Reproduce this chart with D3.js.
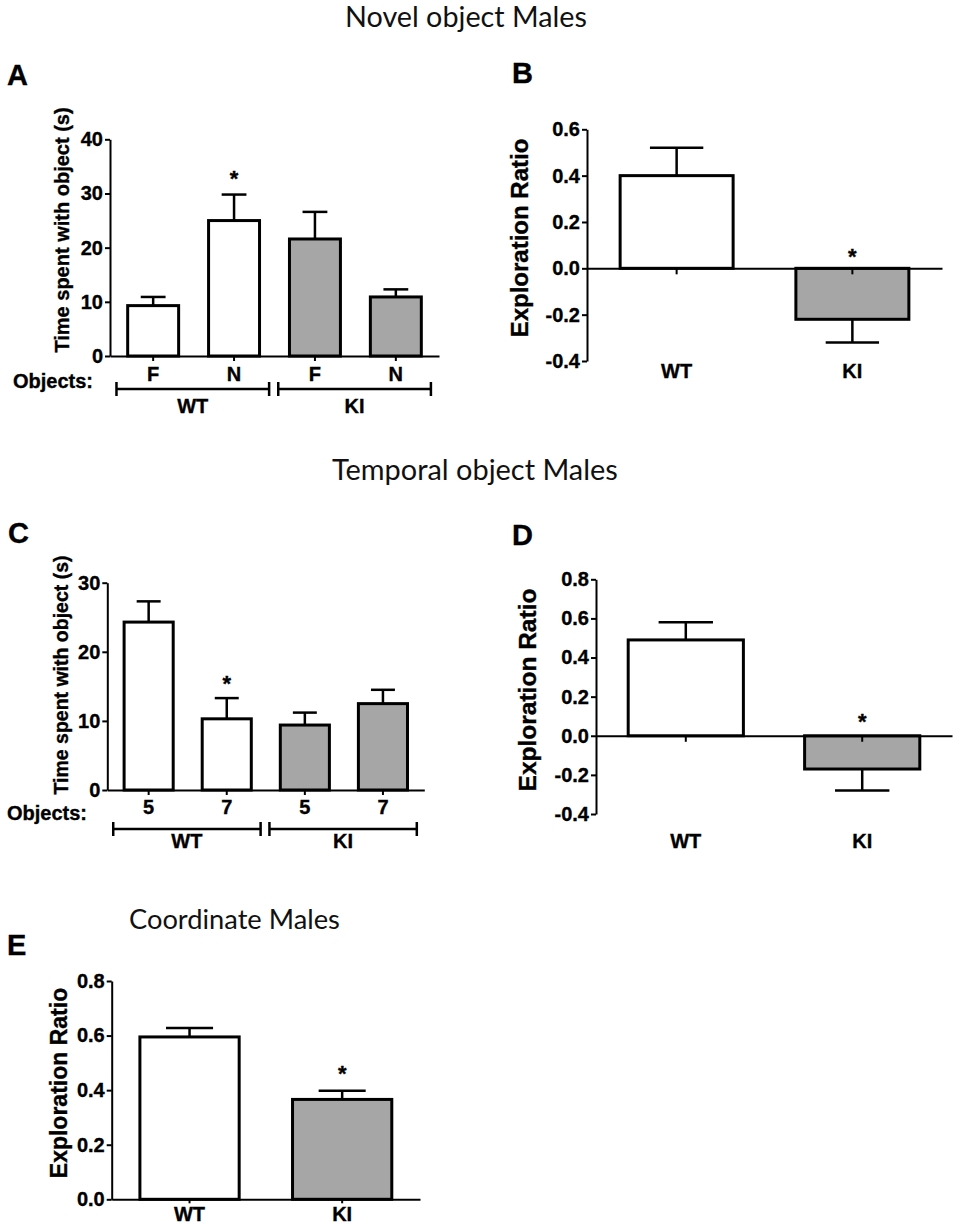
<!DOCTYPE html>
<html>
<head>
<meta charset="utf-8">
<script src="https://cdn.jsdelivr.net/npm/d3@7/dist/d3.min.js"></script>
<style>
  html, body { margin: 0; padding: 0; background: #fff; }
  svg { display: block; }
</style>
</head>
<body>
<svg id="chart" width="957" height="1231"></svg>
<script>
// ---------------- DATA ----------------
const titles = ["Novel object Males", "Temporal object Males", "Coordinate Males"];
const panelLetters = ["A", "B", "C", "D", "E"];

// Panel A: novel object, time spent
const aCategories = ["F", "N", "F", "N"];
const aGroups = ["WT", "WT", "KI", "KI"];
const aMeans = [9.3, 25.0, 21.6, 10.9];
const aSem = [1.6, 4.8, 5.0, 1.4];
const aSig = [false, true, false, false];
const aTicks = [0, 10, 20, 30, 40];

// Panel B: novel object, exploration ratio
const bCategories = ["WT", "KI"];
const bMeans = [0.40, -0.22];
const bSem = [0.12, 0.10];
const bSig = [false, true];
const bTicks = [-0.4, -0.2, 0.0, 0.2, 0.4, 0.6];

// Panel C: temporal object, time spent
const cCategories = ["5", "7", "5", "7"];
const cGroups = ["WT", "WT", "KI", "KI"];
const cMeans = [24.3, 10.3, 9.4, 12.5];
const cSem = [3.0, 3.0, 1.8, 2.0];
const cSig = [false, true, false, false];
const cTicks = [0, 10, 20, 30];

// Panel D: temporal object, exploration ratio
const dCategories = ["WT", "KI"];
const dMeans = [0.49, -0.17];
const dSem = [0.09, 0.11];
const dSig = [false, true];
const dTicks = [-0.4, -0.2, 0.0, 0.2, 0.4, 0.6, 0.8];

// Panel E: coordinate, exploration ratio
const eCategories = ["WT", "KI"];
const eMeans = [0.595, 0.366];
const eSem = [0.033, 0.032];
const eSig = [false, true];
const eTicks = [0.0, 0.2, 0.4, 0.6, 0.8];

const yLabelTime = "Time spent with object (s)";
const yLabelRatio = "Exploration Ratio";
const objectsLabel = "Objects:";
const groupNames = ["WT", "KI"];
// --------------------------------------

const groupFill = { WT: "#ffffff", KI: "#a6a6a6" };
const svg = d3.select("#chart");
const BOLD = '"Liberation Sans", Arial, sans-serif';
const HEAVY = 0.35; // slight outline to mimic the heavier print of the original

function boldText(sel, size) {
  return sel.attr("font-family", BOLD).attr("font-weight", "bold")
    .attr("font-size", size).attr("fill", "#000")
    .attr("stroke", "#000").attr("stroke-width", HEAVY);
}

function fitTitle(txt, x0, baseline, targetW) {
  const t = svg.append("text")
    .attr("x", x0).attr("y", baseline)
    .attr("font-family", 'Lato, "Open Sans", sans-serif')
    .attr("font-size", 24).attr("fill", "#111")
    .text(txt);
  const w = t.node().getComputedTextLength();
  t.attr("font-size", 24 * targetW / w);
}

function letter(txt, x, y) {
  boldText(svg.append("text").attr("x", x).attr("y", y), 29).text(txt);
}

function styleAxis(g, fs) {
  g.attr("font-family", BOLD).attr("font-weight", "bold").attr("font-size", fs);
  g.selectAll("path.domain").attr("stroke", "#000").attr("stroke-width", 2);
  g.selectAll(".tick line").attr("stroke", "#000").attr("stroke-width", 2);
  g.selectAll(".tick text").attr("fill", "#000").attr("stroke", "#000").attr("stroke-width", HEAVY);
}

function drawPanel(cfg) {
  const n = cfg.means.length;
  const idx = d3.range(n);
  const x = d3.scaleBand().domain(idx).range(cfg.xRange)
    .paddingInner(cfg.pi).paddingOuter(cfg.po);
  const y = d3.scaleLinear().domain(cfg.yDomain).range(cfg.yRange);
  const bw = x.bandwidth();
  const g = svg.append("g");
  const groups = cfg.groups || cfg.categories;

  // error bars
  idx.forEach(i => {
    const m = cfg.means[i];
    const e = m >= 0 ? m + cfg.sem[i] : m - cfg.sem[i];
    const cx = x(i) + bw / 2;
    g.append("line").attr("x1", cx).attr("x2", cx)
      .attr("y1", y(m)).attr("y2", y(e))
      .attr("stroke", "#000").attr("stroke-width", 2.5);
    g.append("line").attr("x1", cx - bw * 0.23).attr("x2", cx + bw * 0.23)
      .attr("y1", y(e)).attr("y2", y(e))
      .attr("stroke", "#000").attr("stroke-width", 2.5);
  });

  // bars
  g.selectAll("rect.bar").data(idx).join("rect")
    .attr("class", "bar")
    .attr("x", i => x(i) + 1.5)
    .attr("width", bw - 3)
    .attr("y", i => Math.min(y(0), y(cfg.means[i])))
    .attr("height", i => Math.abs(y(cfg.means[i]) - y(0)))
    .attr("fill", i => groupFill[groups[i]])
    .attr("stroke", "#000").attr("stroke-width", 3);

  // stars
  idx.forEach(i => {
    if (!cfg.sig[i]) return;
    const m = cfg.means[i];
    const cy = m >= 0 ? y(m + cfg.sem[i]) - cfg.starGap : y(0) - cfg.starGapNeg;
    boldText(g.append("text").attr("x", x(i) + bw / 2).attr("y", cy + 12)
      .attr("text-anchor", "middle"), 22).text("*");
  });

  // y axis
  const yAxis = d3.axisLeft(y).tickValues(cfg.ticks)
    .tickSize(5).tickSizeOuter(0).tickPadding(2)
    .tickFormat(cfg.tickFmt);
  const ga = svg.append("g").attr("transform", `translate(${cfg.xRange[0]},0)`).call(yAxis);
  styleAxis(ga, 20);

  // x axis at zero
  const xAxis = d3.axisBottom(x).tickSize(cfg.xTickSize).tickSizeOuter(0)
    .tickPadding(cfg.xTickPad)
    .tickFormat(i => cfg.labelsOnAxis ? cfg.categories[i] : "");
  const gx = svg.append("g").attr("transform", `translate(0,${y(0)})`).call(xAxis);
  styleAxis(gx, 20);

  // category labels below plot (for ratio panels with negative range)
  if (cfg.bottomLabelY) {
    idx.forEach(i => {
      boldText(svg.append("text").attr("x", x(i) + bw / 2).attr("y", cfg.bottomLabelY)
        .attr("text-anchor", "middle"), 20).text(cfg.categories[i]);
    });
  }

  // y label
  boldText(svg.append("text")
    .attr("transform", `translate(${cfg.yLabelX},${cfg.yLabelY}) rotate(-90)`)
    .attr("text-anchor", "middle").attr("dy", "0.35em"), cfg.yLabelSize)
    .text(cfg.yLabel);

  // group brackets
  if (cfg.groups) {
    boldText(svg.append("text").attr("x", cfg.objX).attr("y", cfg.objY), 20).text(objectsLabel);
    const step = x.step();
    groupNames.forEach(gn => {
      const members = idx.filter(i => cfg.groups[i] === gn);
      const l = x(members[0]) - 0.12 * step;
      const r = x(members[members.length - 1]) + bw + 0.1 * step;
      const bg = svg.append("g").attr("stroke", "#000").attr("stroke-width", 2.5);
      bg.append("line").attr("x1", l).attr("x2", r).attr("y1", cfg.brY).attr("y2", cfg.brY);
      bg.append("line").attr("x1", l).attr("x2", l).attr("y1", cfg.brY - 7).attr("y2", cfg.brY + 7);
      bg.append("line").attr("x1", r).attr("x2", r).attr("y1", cfg.brY - 7).attr("y2", cfg.brY + 7);
      boldText(svg.append("text").attr("x", (l + r) / 2).attr("y", cfg.grpY)
        .attr("text-anchor", "middle"), 20).text(gn);
    });
  }
}

const intFmt = d => String(d);
const decFmt = d => d.toFixed(1);

// titles
fitTitle(titles[0], 345, 27, 242);
fitTitle(titles[1], 332, 480, 286);
fitTitle(titles[2], 129, 929, 211);

// letters
letter(panelLetters[0], 7, 85);
letter(panelLetters[1], 512, 83);
letter(panelLetters[2], 8, 543);
letter(panelLetters[3], 512, 545);
letter(panelLetters[4], 7, 955);

drawPanel({
  categories: aCategories, groups: aGroups, means: aMeans, sem: aSem, sig: aSig,
  ticks: aTicks, tickFmt: intFmt,
  yDomain: [0, 40], yRange: [356, 139.3], xRange: [110, 439], pi: 0.333, po: 0.2,
  xTickSize: 5, xTickPad: 6, labelsOnAxis: true,
  starGap: 21, starGapNeg: 16,
  yLabel: yLabelTime, yLabelX: 62, yLabelY: 230, yLabelSize: 20,
  objX: 13, objY: 388, brY: 389, grpY: 413
});

drawPanel({
  categories: bCategories, means: bMeans, sem: bSem, sig: bSig,
  ticks: bTicks, tickFmt: decFmt,
  yDomain: [-0.4, 0.6], yRange: [361, 129.3], xRange: [587, 942], pi: 0.34, po: 0.18,
  xTickSize: 6, xTickPad: 3, labelsOnAxis: false, bottomLabelY: 378,
  starGap: 21, starGapNeg: 16,
  yLabel: yLabelRatio, yLabelX: 520, yLabelY: 238, yLabelSize: 24
});

drawPanel({
  categories: cCategories, groups: cGroups, means: cMeans, sem: cSem, sig: cSig,
  ticks: cTicks, tickFmt: intFmt,
  yDomain: [0, 30], yRange: [790, 582.7], xRange: [107.3, 424.3], pi: 0.333, po: 0.196,
  xTickSize: 5, xTickPad: 5, labelsOnAxis: true,
  starGap: 19, starGapNeg: 16,
  yLabel: yLabelTime, yLabelX: 61.5, yLabelY: 675, yLabelSize: 19.5,
  objX: 7, objY: 820, brY: 829, grpY: 848
});

drawPanel({
  categories: dCategories, means: dMeans, sem: dSem, sig: dSig,
  ticks: dTicks, tickFmt: decFmt,
  yDomain: [-0.4, 0.8], yRange: [814, 579.3], xRange: [596, 952], pi: 0.33, po: 0.174,
  xTickSize: 6, xTickPad: 3, labelsOnAxis: false, bottomLabelY: 848,
  starGap: 21, starGapNeg: 19,
  yLabel: yLabelRatio, yLabelX: 527, yLabelY: 690, yLabelSize: 24.5
});

drawPanel({
  categories: eCategories, means: eMeans, sem: eSem, sig: eSig,
  ticks: eTicks, tickFmt: decFmt,
  yDomain: [0, 0.8], yRange: [1199.3, 981], xRange: [111.7, 420], pi: 0.33, po: 0.175,
  xTickSize: 4, xTickPad: 4, labelsOnAxis: true,
  starGap: 22, starGapNeg: 16,
  yLabel: yLabelRatio, yLabelX: 59, yLabelY: 1083, yLabelSize: 23
});
</script>
</body>
</html>
